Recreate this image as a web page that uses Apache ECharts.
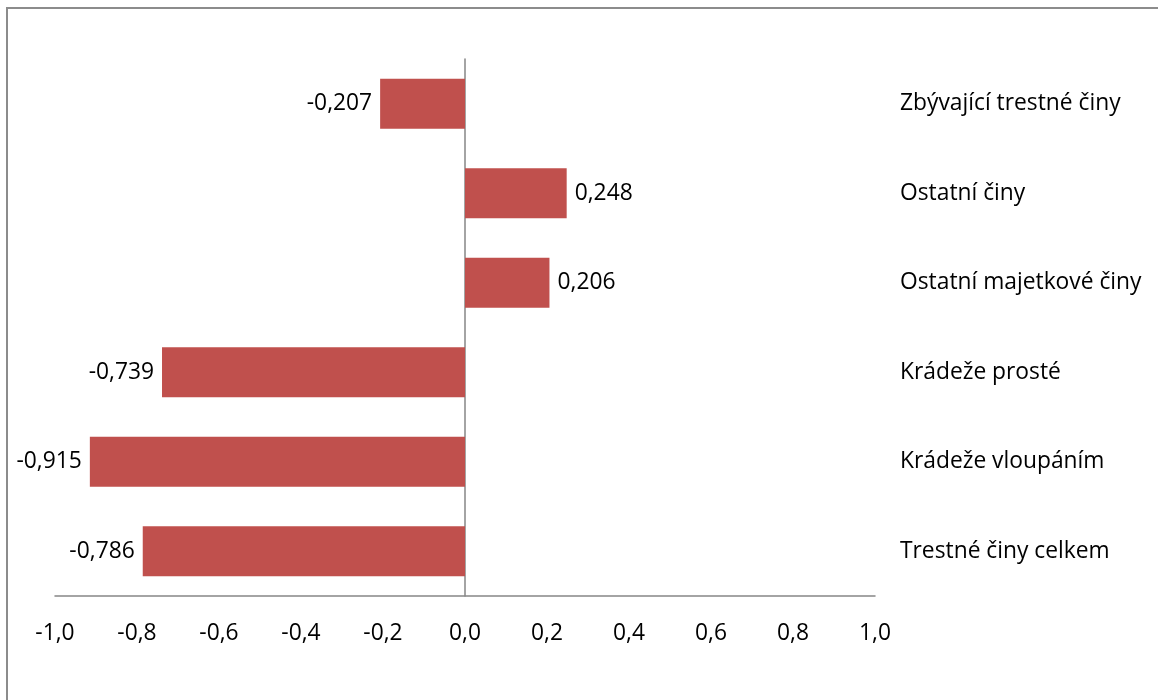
<!DOCTYPE html>
<html>
<head>
<meta charset="utf-8">
<script src="https://cdn.jsdelivr.net/npm/echarts@6/dist/echarts.min.js"></script>
<style>
html,body{margin:0;padding:0;background:#fff;}
#c{width:1158px;height:700px;}
</style>
</head>
<body>
<div id="c"></div>
<script>
var categories = ["Trestné činy celkem", "Krádeže vloupáním", "Krádeže prosté", "Ostatní majetkové činy", "Ostatní činy", "Zbývající trestné činy"];
var values = [-0.786, -0.915, -0.739, 0.206, 0.248, -0.207];
var xTicks = [-1.0, -0.8, -0.6, -0.4, -0.2, 0.0, 0.2, 0.4, 0.6, 0.8, 1.0];

var FONT = 'Open Sans';
var FS = 22.8;
function fmt(v, d) { return v.toFixed(d).replace('.', ','); }

var chart = echarts.init(document.getElementById('c'), null, {renderer: 'canvas'});
chart.setOption({
  animation: false,
  backgroundColor: '#fff',
  textStyle: {fontFamily: FONT},
  graphic: [{
    type: 'rect',
    shape: {x: 7, y: 8, width: 2000, height: 2000},
    style: {fill: 'none', stroke: '#8c8c8c', lineWidth: 2}
  }],
  grid: {left: 55, right: 283, top: 59, bottom: 104, containLabel: false},
  xAxis: {
    type: 'value',
    min: xTicks[0],
    max: xTicks[xTicks.length - 1],
    interval: 0.2,
    splitLine: {show: false},
    axisTick: {show: false},
    axisLine: {show: true, onZero: false, lineStyle: {color: '#868686', width: 1.5}},
    axisLabel: {
      margin: 26,
      fontSize: FS,
      fontFamily: FONT,
      color: '#000',
      formatter: function (v) { return fmt(v, 1); }
    }
  },
  yAxis: [{
    type: 'category',
    data: categories,
    axisTick: {show: false},
    axisLabel: {show: false},
    axisLine: {show: true, onZero: true, lineStyle: {color: '#868686', width: 1.5}}
  }, {
    type: 'category',
    data: categories,
    position: 'right',
    axisTick: {show: false},
    axisLine: {show: false},
    axisLabel: {
      margin: 25,
      align: 'left',
      fontSize: FS,
      fontFamily: FONT,
      color: '#000'
    }
  }],
  series: [{
    type: 'bar',
    yAxisIndex: 0,
    barWidth: '56%',
    itemStyle: {color: '#C0504D'},
    data: values.map(function (v) {
      return {
        value: v,
        label: {
          show: true,
          position: v < 0 ? 'left' : 'right',
          distance: 8,
          fontSize: FS,
          fontFamily: FONT,
          color: '#000',
          formatter: function (p) { return fmt(p.value, 3); }
        }
      };
    })
  }]
});
</script>
</body>
</html>
